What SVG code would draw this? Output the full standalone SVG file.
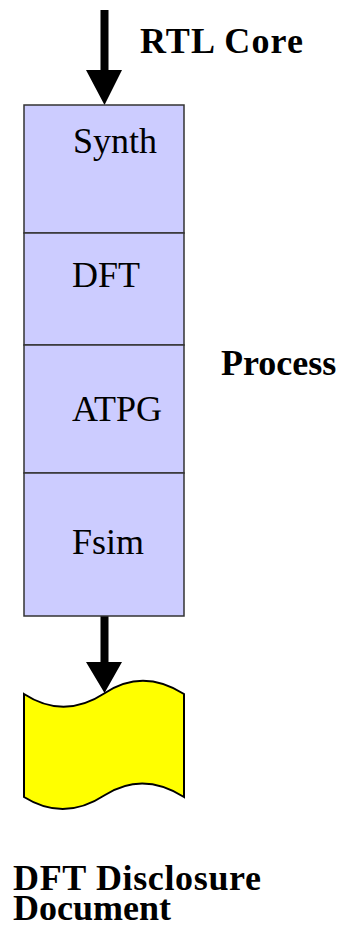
<svg xmlns="http://www.w3.org/2000/svg" width="347" height="935" viewBox="0 0 347 935">
<style>
.stage{fill:#ccccff;stroke:#333;stroke-width:1.5}
.doc{fill:#ffff00;stroke:#000;stroke-width:2}
.t{font-family:"Liberation Serif","Times New Roman",serif;font-size:36px;fill:#000}
.b{font-weight:bold}
.arrow{fill:#000}
</style>
<rect width="347" height="935" fill="#fff"/>
<g id="connectors">
<path class="arrow" d="M100.5,10 H108.5 V70 H122 L104.5,105 L86,70 H100.5 Z"/>
<path class="arrow" d="M100.5,616 H108.5 V662 H122 L104.5,693 L86,662 H100.5 Z"/>
</g>
<g id="label-rtl"><text class="t b" x="140" y="53" textLength="163" lengthAdjust="spacing">RTL Core</text></g>
<g id="synth"><rect class="stage" x="24" y="105" width="160" height="128"/><text class="t" x="73" y="153">Synth</text></g>
<g id="dft"><rect class="stage" x="24" y="233" width="160" height="112"/><text class="t" x="72" y="287">DFT</text></g>
<g id="atpg"><rect class="stage" x="24" y="345" width="160" height="128"/><text class="t" x="72" y="421">ATPG</text></g>
<g id="fsim"><rect class="stage" x="24" y="473" width="160" height="143"/><text class="t" x="72" y="554">Fsim</text></g>
<g id="label-process"><text class="t b" x="221" y="375">Process</text></g>
<g id="document"><path class="doc" d="M24,694 Q64,720 105,693 Q143,668 184,694 L184,797 Q143,771 105,795 Q64,822 24,797 Z"/></g>
<g id="label-doc"><text class="t b" x="13" y="890" textLength="248" lengthAdjust="spacing">DFT Disclosure</text><text class="t b" x="13" y="920">Document</text></g>
</svg>
